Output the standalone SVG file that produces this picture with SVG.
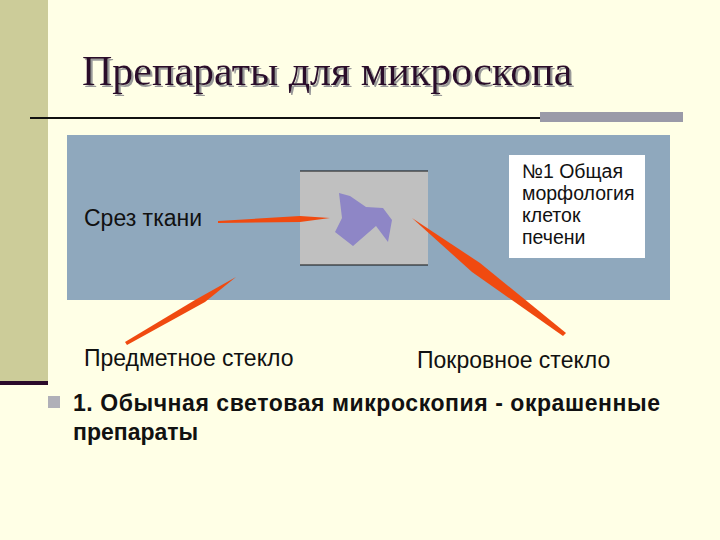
<svg xmlns="http://www.w3.org/2000/svg" width="720" height="540" viewBox="0 0 720 540">
<defs>
<filter id="sh" x="-5%" y="-20%" width="110%" height="140%"><feDropShadow dx="2" dy="2" stdDeviation="0.5" flood-color="#999"/></filter>
</defs>
<style>
.lbl{font-family:"Liberation Sans",Arial,sans-serif;font-size:23px;fill:#111}
.box{font-size:19.5px}
.arr{fill:#f04a10}
</style>
<rect width="720" height="540" fill="#ffffe6"/>
<rect x="0" y="0" width="48" height="381" fill="#cccc99"/>
<rect x="0" y="381" width="48" height="4" fill="#2a0a2a"/>
<g id="title">
<text x="82" y="85" font-family="'Liberation Serif','Times New Roman',serif" font-size="42" fill="#2a0a2a" filter="url(#sh)">Препараты для микроскопа</text>
</g>
<rect x="30" y="117" width="510" height="2" fill="#111"/>
<rect x="540" y="112" width="143" height="10" fill="#9a9aa8"/>
<g id="slide">
<rect x="67" y="135" width="603" height="165" fill="#8fa8bd"/>
<rect x="300" y="171" width="128" height="94" fill="#c0c0c0"/>
<line x1="300" y1="171" x2="428" y2="171" stroke="#111"/>
<line x1="300" y1="265" x2="428" y2="265" stroke="#111"/>
<polygon points="339,193 350,196 366,207 383,208 392,220 388,242 376,226 353,246 335,232 342,218" fill="#8e86c6"/>
</g>
<g id="label-box">
<rect x="509" y="155" width="136" height="103" fill="#fff"/>
<text class="lbl box" x="522" y="178">№1 Общая</text>
<text class="lbl box" x="522" y="200">морфология</text>
<text class="lbl box" x="522" y="222">клеток</text>
<text class="lbl box" x="522" y="244">печени</text>
</g>
<g id="tissue"><text class="lbl" x="84" y="226">Срез ткани</text></g>
<g id="slide-lbl"><text class="lbl" x="84" y="366">Предметное стекло</text></g>
<g id="cover-lbl"><text class="lbl" x="417" y="368">Покровное стекло</text></g>
<g id="connectors">
<polygon class="arr" points="218,221 300,216 330,218 300,222 218,223"/>
<polygon class="arr" points="125,342 195,300 236,277 205,302 127,345"/>
<polygon class="arr" points="412,218 480,263 566,333 563,336 472,272"/>
</g>
<g id="bullet">
<rect x="48" y="396" width="12" height="12" fill="#b0b0b8"/>
<text class="lbl" x="73" y="411" font-weight="bold" textLength="587">1. Обычная световая микроскопия - окрашенные</text>
<text class="lbl" x="73" y="440" font-weight="bold">препараты</text>
</g>
</svg>
